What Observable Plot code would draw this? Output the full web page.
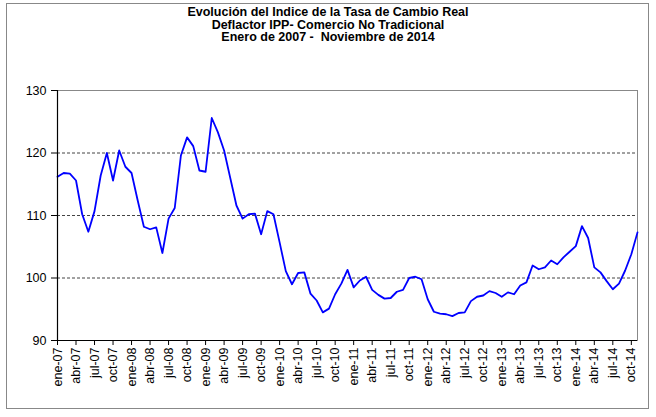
<!DOCTYPE html>
<html>
<head>
<meta charset="utf-8">
<script src="https://cdn.jsdelivr.net/npm/d3@7"></script>
<script src="https://cdn.jsdelivr.net/npm/@observablehq/plot@0.6"></script>
<style>
  html, body { margin: 0; padding: 0; background: #fff; }
  #wrap { position: relative; width: 656px; height: 417px; overflow: hidden; font-family: "Liberation Sans", Arial, sans-serif; }
  #border { position: absolute; left: 6px; top: 3px; width: 643px; height: 406px; border: 1px solid #888; box-sizing: border-box; }
  #title { position: absolute; left: 6px; width: 644px; top: 6px; text-align: center; font-weight: bold; font-size: 12.5px; line-height: 12.5px; color: #000; }
  #chart { position: absolute; left: 0; top: 0; }
</style>
</head>
<body>
<div id="wrap">
  <div id="border"></div>
  <div id="chart"></div>
  <div id="title">Evolución del Indice de la Tasa de Cambio Real<br>Deflactor IPP- Comercio No Tradicional<br>Enero de 2007 -&nbsp; Noviembre de 2014</div>
</div>
<script>
// Monthly index, ene-07 .. nov-14
const values = [
  116.2, 116.8, 116.7, 115.6, 110.2, 107.4, 110.7, 116.4, 120.0, 115.6, 120.4, 117.8,
  116.8, 112.4, 108.2, 107.8, 108.1, 104.0, 109.5, 111.2, 119.6, 122.5, 121.1, 117.2,
  117.0, 125.6, 123.3, 120.4, 116.0, 111.6, 109.5, 110.2, 110.3, 107.0, 110.7, 110.2,
  105.7, 101.1, 99.0, 100.8, 100.9, 97.5, 96.4, 94.5, 95.1, 97.4, 99.1, 101.3,
  98.5, 99.6, 100.2, 98.1, 97.3, 96.7, 96.8, 97.8, 98.1, 100.0, 100.2, 99.8,
  96.6, 94.6, 94.3, 94.2, 93.9, 94.4, 94.5, 96.3, 97.0, 97.2, 97.9, 97.6,
  97.0, 97.7, 97.4, 98.8, 99.3, 102.0, 101.4, 101.7, 102.8, 102.2, 103.3, 104.2,
  105.1, 108.3, 106.4, 101.7, 100.9, 99.5, 98.2, 99.1, 101.2, 103.8, 107.3
];
const tickLabels = [
  "ene-07","abr-07","jul-07","oct-07","ene-08","abr-08","jul-08","oct-08",
  "ene-09","abr-09","jul-09","oct-09","ene-10","abr-10","jul-10","oct-10",
  "ene-11","abr-11","jul-11","oct-11","ene-12","abr-12","jul-12","oct-12",
  "ene-13","abr-13","jul-13","oct-13","ene-14","abr-14","jul-14","oct-14"
];
const yTicks = [90, 100, 110, 120, 130];
const gridValues = [100, 110, 120];

const data = values.map((v, i) => ({i, v}));
const tickIdx = tickLabels.map((_, k) => k * 3);

const chart = Plot.plot({
  width: 656,
  height: 417,
  marginTop: 90,
  marginBottom: 77,
  marginLeft: 57,
  marginRight: 19,
  style: {fontFamily: "'Liberation Sans', Arial, sans-serif", fontSize: "12px", background: "transparent", color: "#000"},
  x: {domain: [0, values.length - 1]},
  y: {domain: [90, 130]},
  marks: [
    Plot.frame({stroke: "#888", strokeWidth: 1}),
    Plot.ruleY(gridValues, {stroke: "#444", strokeDasharray: "3,2", strokeWidth: 1}),
    Plot.line(data, {x: "i", y: "v", stroke: "#0000ff", strokeWidth: 1.8}),
    Plot.ruleX([0], {stroke: "#000", strokeWidth: 1.2}),
    Plot.ruleY([90], {stroke: "#000", strokeWidth: 1.2}),
    Plot.axisY({ticks: yTicks, tickSize: 6, tickPadding: 5, fontSize: 12.5, label: null, stroke: "#000"}),
    Plot.axisX({ticks: tickIdx, tickFormat: d => tickLabels[Math.round(d / 3)], tickRotate: -90, tickSize: 5, tickPadding: 2, fontSize: 12.5, label: null, stroke: "#000"})
  ]
});
document.getElementById("chart").appendChild(chart);
</script>
</body>
</html>
